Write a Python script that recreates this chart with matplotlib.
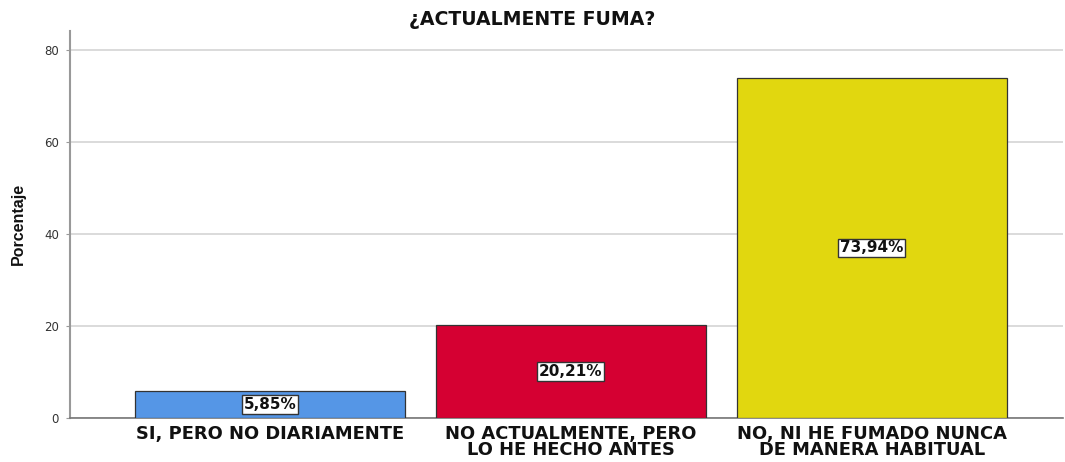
import matplotlib
matplotlib.use("Agg")
import matplotlib.pyplot as plt

categories = ["SI, PERO NO DIARIAMENTE",
              "NO ACTUALMENTE, PERO\nLO HE HECHO ANTES",
              "NO, NI HE FUMADO NUNCA\nDE MANERA HABITUAL"]
values = [5.85, 20.21, 73.94]
value_labels = ["5,85%", "20,21%", "73,94%"]
colors = ["#5596E6", "#D50032", "#E1D70F"]
yticks = [0, 20, 40, 60, 80]
title = "¿ACTUALMENTE FUMA?"
ylabel = "Porcentaje"

plt.rcParams['font.family'] = ['DejaVu Sans']

fig = plt.figure(figsize=(10.65, 4.62), dpi=100)
ax = fig.add_axes([0.0657, 0.0952, 0.9323, 0.8377])

x = list(range(len(categories)))
ax.bar(x, values, width=0.897, color=colors, edgecolor="#333333", linewidth=0.9, zorder=3)
ax.set_xlim(-0.664, 2.635)
ax.set_ylim(0, 84.1)
ax.set_yticks(yticks)
ax.set_yticklabels([str(t) for t in yticks], fontsize=8.5, color="#333333")
ax.yaxis.grid(True, color="#d4d4d4", linewidth=1.2, zorder=0)
ax.set_axisbelow(True)
ax.tick_params(axis='y', length=3, width=0.8, color="#999999", pad=5)
ax.tick_params(axis='x', length=0, pad=5)
ax.set_xticks(x)
ax.set_xticklabels(categories, fontsize=12.9, fontweight='bold', linespacing=0.85, color="#111111")
for s in ["top", "right"]:
    ax.spines[s].set_visible(False)
ax.spines["left"].set_color("#999999")
ax.spines["left"].set_linewidth(1.5)
ax.spines["bottom"].set_color("#777777")
ax.spines["bottom"].set_linewidth(1.2)

for xi, v, lab in zip(x, values, value_labels):
    ax.text(xi, v / 2, lab, ha='center', va='center', fontsize=11, fontweight='bold',
            color="#111111", zorder=5,
            bbox=dict(boxstyle='square,pad=0.12', facecolor='white', edgecolor='#333333', linewidth=1))

fig.text(0.5, 0.958, title, ha='center', va='center', fontsize=13.6, fontweight='bold', color="#111111")
fig.text(0.017, 0.515, ylabel, ha='center', va='center', rotation=90, fontsize=11.5,
         fontweight='bold', color="#111111", family=['Liberation Sans Narrow', 'Liberation Sans'])

fig.savefig("out.png", dpi=100)
